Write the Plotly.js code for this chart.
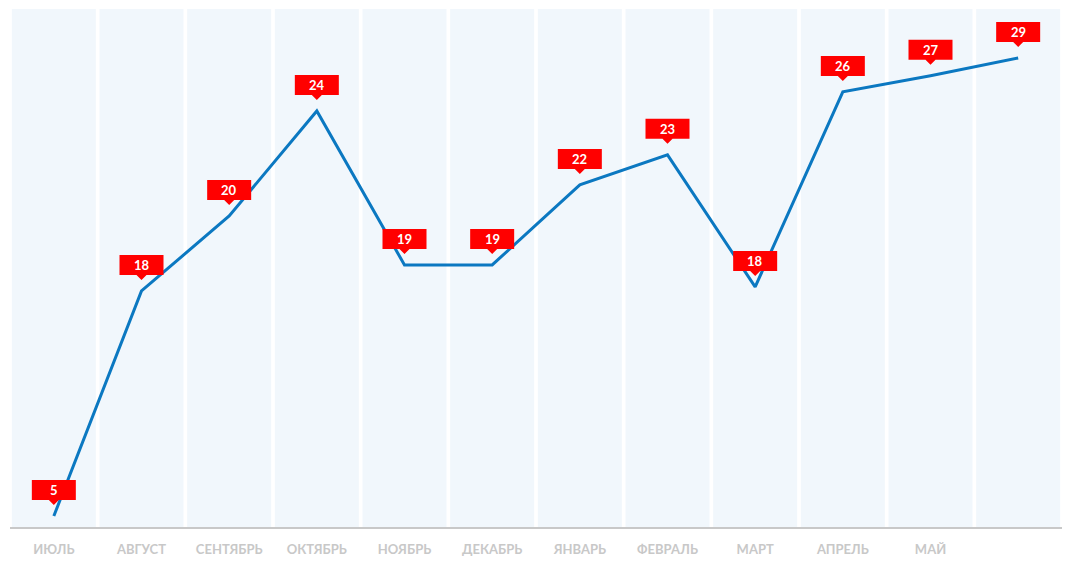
<!DOCTYPE html>
<html><head><meta charset="utf-8">
<script src="https://cdn.plot.ly/plotly-3.0.1.min.js"></script>
<style>html,body{margin:0;padding:0;background:#fff}#chart{width:1071px;height:566px}</style>
</head><body><div id="chart"></div>
<script>
const months = ["ИЮЛЬ","АВГУСТ","СЕНТЯБРЬ","ОКТЯБРЬ","НОЯБРЬ","ДЕКАБРЬ","ЯНВАРЬ","ФЕВРАЛЬ","МАРТ","АПРЕЛЬ","МАЙ","ИЮНЬ"];
const tickLabels = ["ИЮЛЬ","АВГУСТ","СЕНТЯБРЬ","ОКТЯБРЬ","НОЯБРЬ","ДЕКАБРЬ","ЯНВАРЬ","ФЕВРАЛЬ","МАРТ","АПРЕЛЬ","МАЙ",""];
const values = [5.54, 16.62, 20.31, 25.48, 17.9, 17.9, 21.84, 23.32, 16.82, 26.42, 27.21, 28.09];
const pointLabels = ["5","18","20","24","19","19","22","23","18","26","27","29"];

const FONT = "Lato, 'Open Sans', sans-serif";
const shapes = [];
months.forEach((m, i) => {
  shapes.push({type:'rect', xref:'x', yref:'paper', x0:i-0.479, x1:i+0.479, y0:0, y1:1,
    fillcolor:'#f1f7fc', line:{width:0}, layer:'below'});
});
const annotations = [];
months.forEach((m, i) => {
  shapes.push({type:'path', xref:'x', yref:'y', xsizemode:'pixel', ysizemode:'pixel',
    xanchor:m, yanchor:values[i],
    path:'M-22,16 L-5,16 L0,11 L5,16 L22,16 L22,36 L-22,36 Z',
    fillcolor:'#ff0000', line:{width:0}, layer:'above'});
  annotations.push({x:m, y:values[i], xref:'x', yref:'y', text:'<b>'+pointLabels[i]+'</b>',
    showarrow:false, yanchor:'middle', xanchor:'center', yshift:26,
    font:{family:FONT, size:13, color:'#ffffff'}});
});

const trace = {x: months, y: values, type:'scatter', mode:'lines',
  line:{color:'#0b78c1', width:3}, hoverinfo:'skip'};

const layout = {
  width:1071, height:566,
  margin:{l:10, r:9, t:9, b:39},
  paper_bgcolor:'#ffffff', plot_bgcolor:'#ffffff',
  showlegend:false,
  xaxis:{type:'category', range:[-0.5, 11.5], tickvals:months, ticktext:tickLabels,
    showgrid:false, zeroline:false, showline:true, linecolor:'#c8c8c8', linewidth:2,
    ticks:'', ticklabelstandoff:9,
    tickfont:{family:FONT, size:13, color:'#c8c8c8', weight:'bold'}},
  yaxis:{range:[5, 30.5], visible:false, showgrid:false, zeroline:false},
  shapes: shapes,
  annotations: annotations
};
Plotly.newPlot('chart', [trace], layout, {displayModeBar:false, staticPlot:true});
</script></body></html>
